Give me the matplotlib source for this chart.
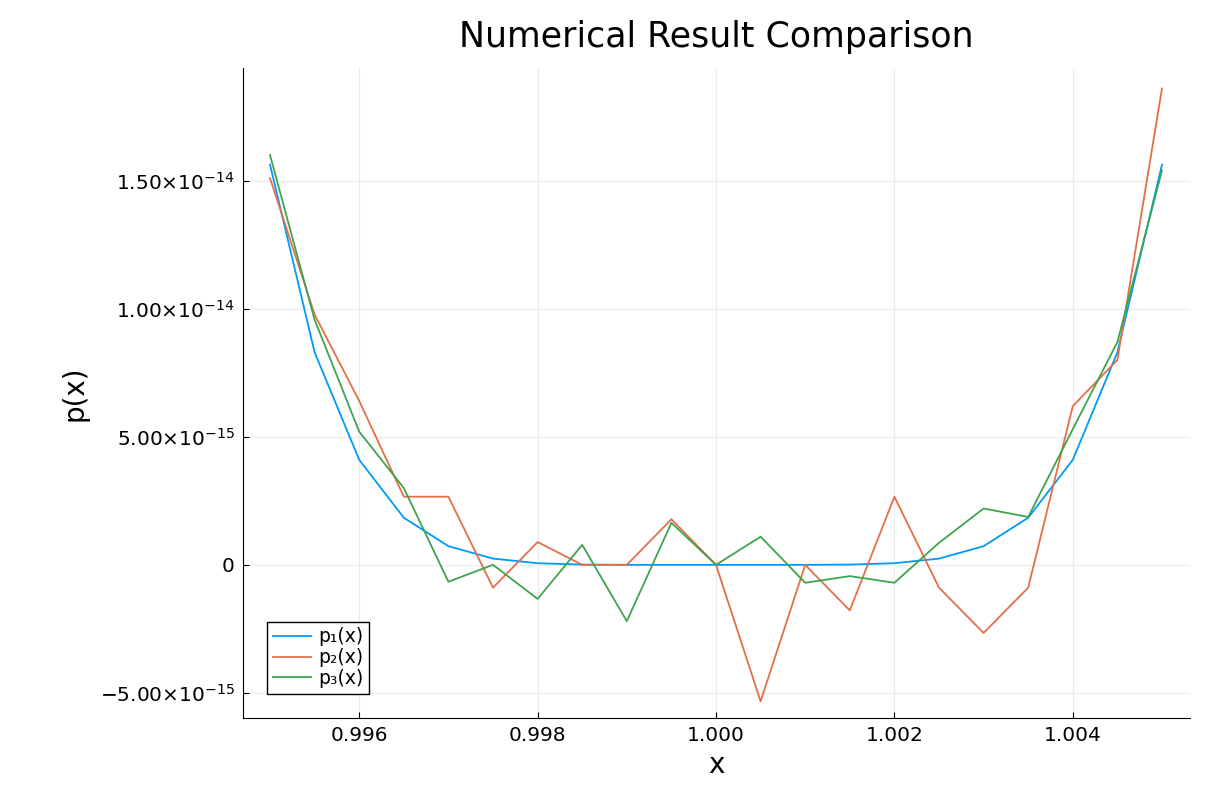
import matplotlib
matplotlib.use("Agg")
import matplotlib.pyplot as plt
import numpy as np

x = [0.995 + 0.0005 * k for k in range(21)]
p1 = [1.5625e-14, 8.30e-15, 4.10e-15, 1.84e-15, 7.29e-16, 2.44e-16, 6.4e-17, 1.1e-17, 1.0e-18, 0, 0,
      0, 1.0e-18, 1.1e-17, 6.4e-17, 2.44e-16, 7.29e-16, 1.84e-15, 4.10e-15, 8.30e-15, 1.5625e-14]
p2 = [1.51e-14, 9.77e-15, 6.4e-15, 2.66e-15, 2.66e-15, -0.89e-15, 0.89e-15, 0, 0, 1.78e-15, 0,
      -5.33e-15, 0, -1.78e-15, 2.66e-15, -0.89e-15, -2.66e-15, -0.89e-15, 6.2e-15, 8.0e-15, 1.86e-14]
p3 = [1.6e-14, 9.57e-15, 5.2e-15, 3.0e-15, -0.66e-15, 0, -1.33e-15, 0.78e-15, -2.2e-15, 1.64e-15, 0,
      1.1e-15, -0.7e-15, -0.44e-15, -0.7e-15, 0.86e-15, 2.2e-15, 1.87e-15, 5.3e-15, 8.7e-15, 1.54e-14]
labels = ["p₁(x)", "p₂(x)", "p₃(x)"]
colors = ["#009AFA", "#E36F47", "#3EA44E"]
yticks = [-5e-15, 0, 5e-15, 1e-14, 1.5e-14]
yticklabels = [r"$-5.00{\times}10^{-15}$", "0", r"$5.00{\times}10^{-15}$",
               r"$1.00{\times}10^{-14}$", r"$1.50{\times}10^{-14}$"]
xticks = [0.996, 0.998, 1.000, 1.002, 1.004]

plt.rcParams['mathtext.default'] = 'regular'
fig = plt.figure(figsize=(12.24, 7.96), dpi=100)
ax = fig.add_axes([243/1224, 1-718/796, (1190-243)/1224, (718-68)/796])
for s, l, c in zip([p1, p2, p3], labels, colors):
    ax.plot(x, s, color=c, lw=1.3, label=l)
ax.set_xlim(0.994697, 1.005314)
ax.set_ylim(-0.598e-14, 1.94e-14)
ax.set_yticks(yticks)
ax.set_yticklabels(yticklabels, fontsize=14.5)
ax.set_xticks(xticks)
ax.set_xticklabels([f"{t:.3f}" for t in xticks], fontsize=14.5)
ax.grid(True, color="#ececec", lw=0.8)
for s in ["top", "right"]:
    ax.spines[s].set_visible(False)
ax.tick_params(direction="in", length=4, pad=6)
ax.set_xlabel("x", fontsize=20)
ax.set_ylabel("p(x)", fontsize=20, labelpad=8)
ax.set_title("Numerical Result Comparison", fontsize=25, pad=15)
ax.legend(loc="lower left", fontsize=13.5, fancybox=False, edgecolor="black",
          handlelength=2.0, handletextpad=0.4, labelspacing=0.1,
          borderaxespad=1.3, borderpad=0.3, framealpha=1)
fig.savefig("out.png", dpi=100)
